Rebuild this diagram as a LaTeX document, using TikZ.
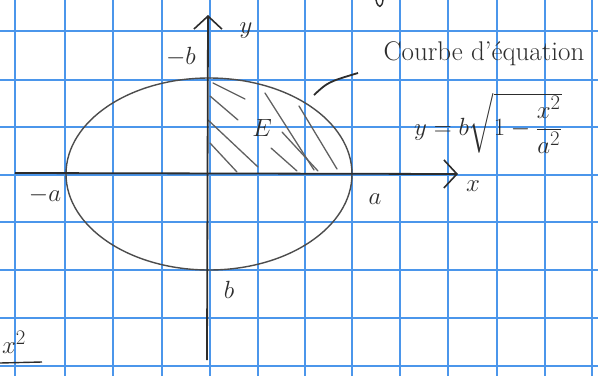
\documentclass[tikz,border=0pt]{standalone}
\usepackage{amsmath}
\usetikzlibrary{arrows.meta, positioning}
\definecolor{gridblue}{RGB}{75, 150, 235}
\definecolor{pencil}{RGB}{45, 45, 45}

\begin{document}
\begin{tikzpicture}[
      x=1pt, y=-1pt,
      font=\Huge,
      >={Straight Barb[length=13pt, width=28pt, line width=1.6pt]},
      gridline/.style={draw=gridblue, line width=2pt},
      axis/.style={->, draw=pencil, line width=1.8pt},
      curve/.style={draw=pencil!85, line width=1.4pt},
      hatch/.style={draw=pencil!75, line width=1.3pt, line cap=round},
      lbl/.style={text=pencil, inner sep=0pt}
  ]
  \useasboundingbox (0,0) rectangle (598,376);
  \clip (0,0) rectangle (598,376);
  \fill[white] (0,0) rectangle (598,376);

  % squared paper
  \foreach \gx in {15,65,113,162,210,258,305,352,400,448,497,545,592}
    \draw[gridline] (\gx,0) -- (\gx,376);
  \foreach \gy in {31,80,127,175,222,270,318,366}
    \draw[gridline] (0,\gy) -- (598,\gy);

  \coordinate (O)  at (208,173);
  \coordinate (xs) at (15,173);
  \coordinate (xe) at (458,174);
  \coordinate (ys) at (207,360);
  \coordinate (ye) at (208,15);

  % hatched quarter E
  \foreach \ax/\ay/\bx/\by in {213/83/245/99, 210/96/238/120, 208/120/258/167,
      210/143/237/172, 265/93/314/170, 282/132/318/171, 271/148/297/171,
      299/106/337/169}
    \draw[hatch] (\ax,\ay) -- (\bx,\by);

  \draw[curve] (209,174) ellipse [x radius=143, y radius=96];
  \draw[axis] (xs) -- (xe);
  \draw[axis] (ys) -- (ye);

  \node[lbl] (mb) at (181,57)  {$-b$};
  \node[lbl] (ly) at (246,31)  {$y$};
  \node[lbl] (ma) at (45,195)  {$-a$};
  \node[lbl] (pa) at (375,199) {$a$};
  \node[lbl] (pb) at (229,290) {$b$};
  \node[lbl] (lx) at (473,186) {$x$};
  \node[lbl] (E)  at (262,128) {$E$};

  \node[lbl, font=\fontsize{27}{30}\selectfont] (title) at (484,54) {Courbe d'équation};
  \node[lbl] (eq) at (488,123) {$y=b\sqrt{1-\dfrac{x^2}{a^2}}$};

  % leader to the curve
  \coordinate (lead) at (314,95);
  \coordinate (tip)  at (358,73);
  \draw[curve, line width=1.8pt, draw=pencil] (lead) .. controls (328,82) .. (tip);

  % bits of the neighbouring page
  \node[lbl] (frag) at (14,342) {$x^2$};
  \draw[curve, draw=pencil] (0,363) -- (42,362);
  \draw[curve, draw=pencil] (376,0) .. controls (378,9) and (382,8) .. (383,0);
\end{tikzpicture}
\end{document}
